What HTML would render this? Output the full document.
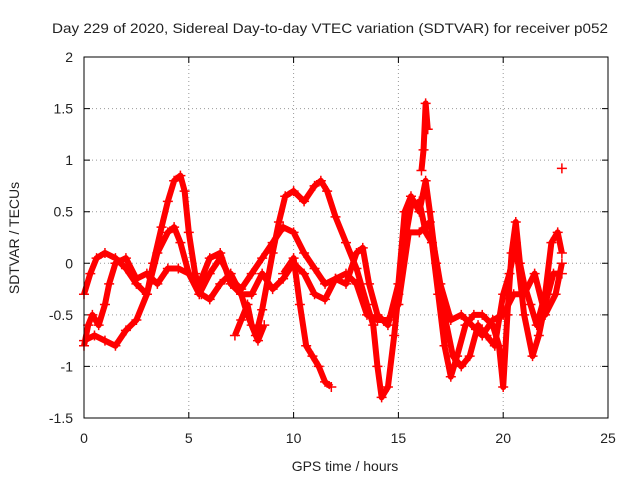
<!DOCTYPE html>
<html><head><meta charset="utf-8"><style>
body{margin:0;background:#fff;}
svg text{font-family:"Liberation Sans",sans-serif;font-size:14px;fill:#222;}
</style></head><body>
<svg id="chart" width="640" height="480" viewBox="0 0 640 480">
<rect width="640" height="480" fill="#fff"/>
<text x="330" y="33" text-anchor="middle" textLength="556" lengthAdjust="spacingAndGlyphs">Day 229 of 2020, Sidereal Day-to-day VTEC variation (SDTVAR) for receiver p052</text>
<text x="345" y="471" text-anchor="middle">GPS time / hours</text>
<text transform="translate(19,238) rotate(-90)" text-anchor="middle">SDTVAR / TECUs</text>
<g id="grid"></g>
<g id="ticks"></g>
<g id="marks"></g>
<rect x="84" y="57" width="524" height="361" fill="none" stroke="#000" stroke-width="1"/>
</svg>
<script>
const xTicks=[0,5,10,15,20,25];
const yTicks=[-1.5,-1,-0.5,0,0.5,1,1.5,2];
const yTickLabels=["-1.5","-1","-0.5","0","0.5","1","1.5","2"];
const track1T=[0,0.5,1,1.5,2,2.5,3,3.3,3.7,4,4.3,4.6,4.8,5,5.3,5.6,6,6.5,7,7.5,7.8,8.2,8.5,9,9.3,9.6,10,10.5,11,11.3,11.6,12,12.5,13,13.5,13.8,14,14.2,14.5,14.8,15,15.3,15.6,16,16.3,16.6,16.9,17.2,17.5,17.8,18.2,18.6,19,19.5,19.8,20,20.2,20.4,20.6,20.8,21,21.3,21.6,22,22.3,22.6,22.8];
const track1V=[-0.75,-0.7,-0.75,-0.8,-0.65,-0.55,-0.3,0,0.35,0.6,0.8,0.85,0.7,0.3,-0.1,-0.3,-0.35,-0.2,-0.1,-0.3,-0.5,-0.7,-0.45,0.1,0.4,0.65,0.7,0.6,0.75,0.8,0.7,0.45,0.2,-0.05,-0.4,-0.6,-1.0,-1.3,-1.2,-0.7,-0.3,0.2,0.55,0.6,0.3,0.2,-0.3,-0.8,-1.1,-0.9,-0.6,-0.5,-0.5,-0.6,-0.8,-1.2,-0.5,0.1,0.4,0.0,-0.2,-0.4,-0.6,-0.3,0.2,0.3,0.1];
const track2T=[0,0.3,0.6,1,1.5,2,2.5,3,3.5,4,4.3,4.6,5,5.5,6,6.5,7,7.5,8,8.5,9,9.5,10,10.5,11,11.5,12,12.5,13,13.3,13.6,14,14.5,15,15.3,15.6,16,16.3,16.5,16.8,17.2,17.6,18,18.4,18.8,19.2,19.6,20,20.3,20.6,21,21.4,21.7,22,22.4,22.8];
const track2V=[-0.3,-0.1,0.05,0.1,0.05,-0.05,-0.2,-0.3,0.1,0.3,0.35,0.2,-0.1,-0.3,-0.1,0.05,-0.15,-0.25,-0.1,0.05,0.2,0.35,0.3,0.1,-0.05,-0.2,-0.15,-0.2,0.1,0.15,-0.2,-0.5,-0.6,-0.2,0.5,0.65,0.5,0.8,0.5,0,-0.5,-0.9,-1.0,-0.9,-0.6,-0.7,-0.8,-0.3,-0.1,0.2,-0.5,-0.9,-0.7,-0.4,-0.1,-0.1];
const track3T=[0,0.2,0.4,0.7,1,1.2,1.5,2,2.5,3,3.5,4,4.5,5,5.5,6,6.5,7,7.5,8,8.5,9,9.5,10,10.5,11,11.5,12,12.5,13,13.5,14,14.5,15,15.5,16,16.5,17,17.5,18,18.5,19,19.5,20,20.5,21,21.5,22,22.5,22.8];
const track3V=[-0.8,-0.6,-0.5,-0.6,-0.4,-0.2,0,0.05,-0.15,-0.1,-0.2,-0.05,-0.05,-0.1,-0.2,0.05,0.1,-0.2,-0.3,-0.3,-0.1,-0.25,-0.15,0,-0.1,-0.3,-0.35,-0.15,-0.1,-0.2,-0.5,-0.55,-0.55,-0.4,0.3,0.3,0.4,-0.2,-0.55,-0.5,-0.6,-0.7,-0.55,-0.5,-0.3,-0.3,-0.1,-0.5,-0.3,0];
const track4T=[9.5,10,10.3,10.6,10.9,11.2,11.5,11.8];
const track4V=[-0.1,0.05,-0.4,-0.8,-0.9,-1.0,-1.15,-1.2];
const track5T=[7.2,7.5,7.8,8,8.3,8.6];
const track5V=[-0.7,-0.55,-0.4,-0.6,-0.75,-0.6];
const spikeT=[16.1,16.2,16.3,16.4];
const spikeV=[0.9,1.1,1.55,1.3];
const lateT=[22.8];
const lateV=[0.92];
const tracks=[[track1T,track1V],[track2T,track2V],[track3T,track3V],[track4T,track4V],[track5T,track5V],[spikeT,spikeV],[lateT,lateV]];

const NS="http://www.w3.org/2000/svg";
function sx(t){return 84+(t-0)/25*524;}
function sy(v){return 418-(v+1.5)/3.5*361;}
const grid=document.getElementById('grid'),ticks=document.getElementById('ticks'),marks=document.getElementById('marks');
xTicks.forEach(t=>{
  const x=sx(t);
  if(t>0&&t<25){const l=document.createElementNS(NS,'line');
  l.setAttribute('x1',x);l.setAttribute('x2',x);l.setAttribute('y1',57);l.setAttribute('y2',418);
  l.setAttribute('stroke','#999');l.setAttribute('stroke-dasharray','1,3');
  
  grid.appendChild(l);}
  const tk=document.createElementNS(NS,'path');
  tk.setAttribute('d',`M${x},418v-6M${x},57v6`);tk.setAttribute('stroke','#000');
  
  grid.appendChild(tk);
  const tx=document.createElementNS(NS,'text');
  tx.setAttribute('x',x);tx.setAttribute('y',443);tx.setAttribute('text-anchor','middle');tx.textContent=t;
  
  ticks.appendChild(tx);
});
yTicks.forEach((v,i)=>{
  const y=sy(v);
  if(v>-1.5&&v<2){const l=document.createElementNS(NS,'line');
  l.setAttribute('x1',84);l.setAttribute('x2',608);l.setAttribute('y1',y);l.setAttribute('y2',y);
  l.setAttribute('stroke','#999');l.setAttribute('stroke-dasharray','1,3');
  
  grid.appendChild(l);}
  const tk=document.createElementNS(NS,'path');
  tk.setAttribute('d',`M84,${y}h6M608,${y}h-6`);tk.setAttribute('stroke','#000');
  
  grid.appendChild(tk);
  const tx=document.createElementNS(NS,'text');
  tx.setAttribute('x',73);tx.setAttribute('y',y+5);tx.setAttribute('text-anchor','end');tx.textContent=yTickLabels[i];
  
  ticks.appendChild(tx);
});
tracks.forEach(([T,V])=>{
  if(T.length>1){
    const p=document.createElementNS(NS,'polyline');
    p.setAttribute('points',T.map((t,i)=>sx(t)+','+sy(V[i])).join(' '));
    p.setAttribute('fill','none');p.setAttribute('stroke','#f00');p.setAttribute('stroke-width','6');p.setAttribute('stroke-linejoin','round');
    
    marks.appendChild(p);
  }
  T.forEach((t,i)=>{
    const x=sx(t),y=sy(V[i]);
    const m=document.createElementNS(NS,'path');
    m.setAttribute('d',`M${x-5},${y}h10M${x},${y-5}v10`);m.setAttribute('stroke','#f00');m.setAttribute('stroke-width','1.5');
    
    marks.appendChild(m);
  });
});
</script>
</body></html>
